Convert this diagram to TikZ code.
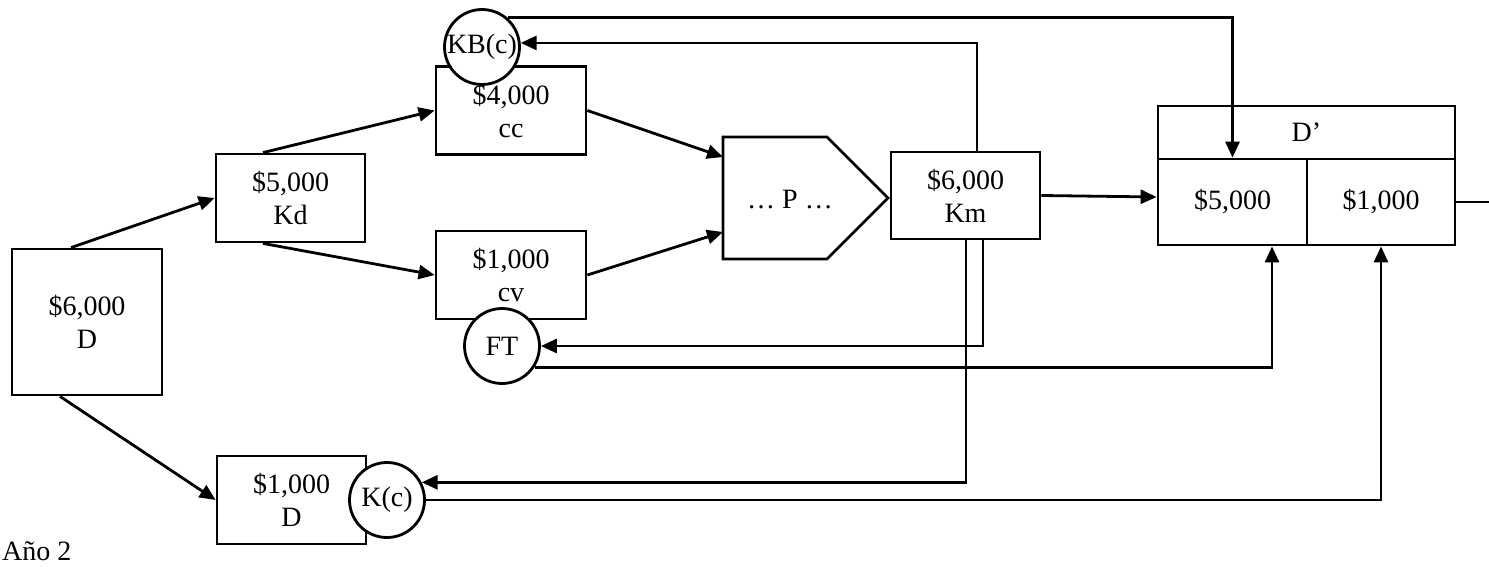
\documentclass[tikz,border=0pt]{standalone}
\usepackage{fontspec}
\setmainfont{Liberation Serif}
\usetikzlibrary{arrows.meta,calc}
\begin{document}
\begin{tikzpicture}[x=1pt,y=-1pt,
  every node/.style={font=\fontsize{28}{33}\selectfont},
  box/.style={draw, line width=2.8pt, minimum width=149pt, minimum height=88pt, inner sep=0pt, align=center},
  circ/.style={draw, circle, line width=2.8pt, fill=white, minimum size=75pt, inner sep=0pt},
  conn/.style={line width=2.8pt},
  arr/.style={conn, -{Triangle[length=16pt,width=14pt]}},
]
\useasboundingbox (0,0) rectangle (1489,567);

% boxes
\node[box, minimum width=150pt, minimum height=146pt] (D) at (87,322) {\$6,000\\D};
\node[box] (Kd) at (290.5,198) {\$5,000\\Kd};
\node[box, minimum width=150pt] (cc) at (511,110.5) {\$4,000\\cc};
\node[box, minimum width=150pt] (cv) at (511,275) {\$1,000\\cv};
\node[box, minimum height=87pt] (Km) at (965.5,195.5) {\$6,000\\Km};
\node[box] (Db) at (291.5,500) {\$1,000\\D};

% process pentagon
\draw[conn] (723,137) -- (827,137) -- (888,198) -- (827,259) -- (723,259) -- cycle;
\node (P) at (790,200) {… P …};
\coordinate (Pa) at (723,157);
\coordinate (Pb) at (723,232);

% D' block
\node[draw, line width=2.8pt, minimum width=297pt, minimum height=53pt, inner sep=0pt] (Dp) at (1306.5,132.5) {D’};
\node[box, minimum width=149pt, minimum height=86pt] (d5) at (1232.5,202) {\$5,000};
\node[box, minimum width=148pt, minimum height=86pt] (d1) at (1381,202) {\$1,000};
\coordinate (out) at (1489,202);

% circles
\node[circ] (KB) at (482,47) {KB(c)};
\node[circ] (FT) at (502,346) {FT};
\node[circ] (Kc) at (387,500) {K(c)};

% label
\node[anchor=base west, inner sep=0pt] (year) at (2,560) {Año 2};

% connectors
\draw[arr] ([xshift=-16pt]D.north) -- (Kd.west);
\draw[arr] ([xshift=-27pt]D.south) -- (Db.west);
\draw[arr] ([xshift=-27.5pt]Kd.north) -- (cc.west);
\draw[arr] ([xshift=-27.5pt]Kd.south) -- (cv.west);
\draw[arr] (cc.east) -- (Pa);
\draw[arr] (cv.east) -- (Pb);
\draw[arr] (Km.east) -- ([yshift=5pt]d5.west);
\draw[arr] ([xshift=11.5pt]Km.north) |- (KB.6);
\draw[arr] (KB.49) -| (d5.north);
\draw[arr] ([xshift=17.5pt]Km.south) |- (FT.east);
\draw[arr] ([xshift=0.5pt]Km.south) |- (Kc.27);
\draw[arr] (FT.-33) -| ([xshift=39.5pt]d5.south);
\draw[arr] (Kc.east) -| (d1.south);
\draw[conn] (d1.east) -- (out);
\end{tikzpicture}
\end{document}
